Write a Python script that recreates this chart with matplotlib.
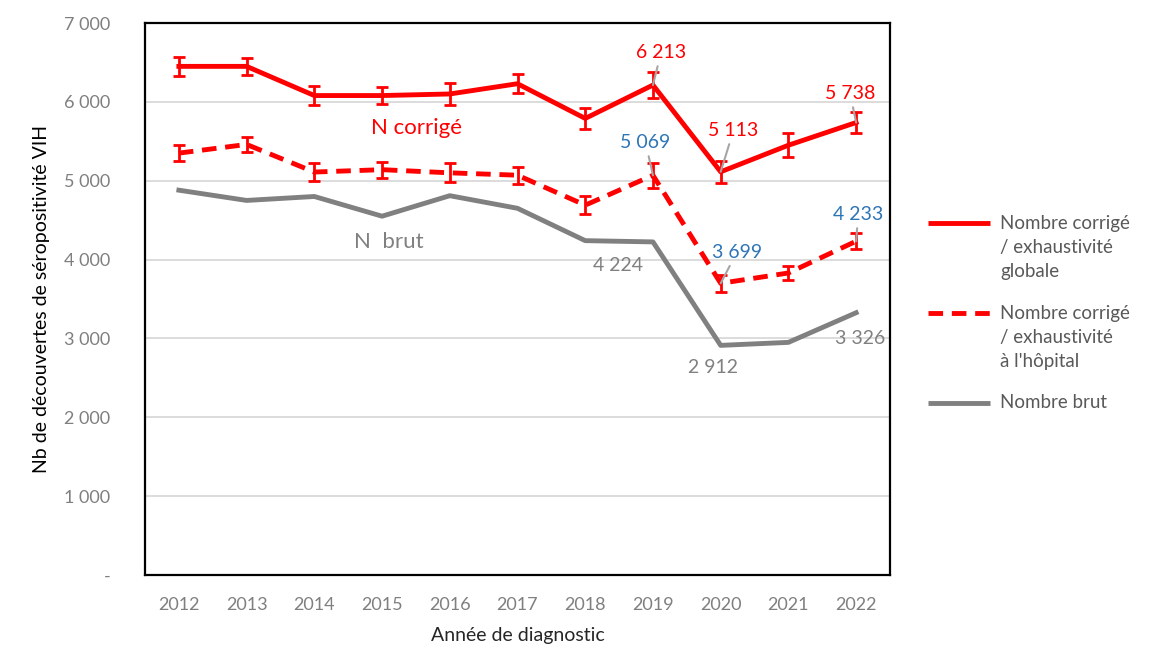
import matplotlib
matplotlib.use("Agg")
import matplotlib.pyplot as plt
from matplotlib.lines import Line2D

plt.rcParams['font.family'] = ['Lato', 'DejaVu Sans']

years = [2012, 2013, 2014, 2015, 2016, 2017, 2018, 2019, 2020, 2021, 2022]
corrige_global = [6450, 6450, 6080, 6080, 6100, 6230, 5790, 6213, 5113, 5450, 5738]
corrige_global_err = [120, 110, 120, 110, 140, 120, 130, 160, 140, 150, 130]
corrige_hopital = [5350, 5460, 5110, 5140, 5100, 5070, 4690, 5069, 3699, 3830, 4233]
corrige_hopital_err = [100, 100, 110, 100, 120, 110, 110, 160, 110, 90, 100]
brut = [4880, 4750, 4800, 4550, 4810, 4650, 4240, 4224, 2912, 2950, 3326]
yticks = [0, 1000, 2000, 3000, 4000, 5000, 6000, 7000]
ytick_labels = ['-', '1 000', '2 000', '3 000', '4 000', '5 000', '6 000', '7 000']
legend_labels = [['Nombre corrigé', '/ exhaustivité', 'globale'],
                 ['Nombre corrigé', '/ exhaustivité', 'à l\'hôpital'],
                 ['Nombre brut']]

RED = '#ff0000'
GRAY = '#808080'
BLUE = '#2e75b6'
TICK = '#7f7f7f'

W, H = 1164, 667
fig = plt.figure(figsize=(W / 100, H / 100), dpi=100)
ax = fig.add_axes([145 / W, 92 / H, 745 / W, 552 / H])

x = list(range(len(years)))
ax.plot(x, brut, color=GRAY, lw=3.5, zorder=3)
ax.errorbar(x, corrige_hopital, yerr=corrige_hopital_err, color=RED, lw=3.5,
            ls=(0, (3, 1.8)), ecolor=RED, elinewidth=2, capsize=4, capthick=2, zorder=4)
ax.errorbar(x, corrige_global, yerr=corrige_global_err, color=RED, lw=3.5,
            ecolor=RED, elinewidth=2, capsize=4, capthick=2, zorder=5)

ax.set_xlim(-0.5, len(years) - 0.5)
ax.set_ylim(0, 7000)
ax.set_yticks(yticks)
ax.set_yticklabels(ytick_labels)
ax.set_xticks(x)
ax.set_xticklabels([str(y) for y in years])
ax.tick_params(axis='both', length=0, labelsize=13, labelcolor=TICK)
ax.tick_params(axis='x', pad=16)
ax.tick_params(axis='y', pad=25)
ax.grid(axis='y', color='#d9d9d9', lw=1.3)
ax.set_axisbelow(True)
for s in ax.spines.values():
    s.set_color('black')
    s.set_linewidth(1.6)

ax.set_ylabel('Nb de découvertes de séropositivité VIH', fontsize=14, color='black', labelpad=10)
ax.set_xlabel('Année de diagnostic', fontsize=14, color='#262626', labelpad=10)

def lab(i, val, dx, dy, color, leader=True):
    txt = f"{val:,}".replace(',', ' ')
    if leader:
        ax.annotate(txt, xy=(x[i], val), xytext=(x[i] + dx, val + dy),
                    color=color, fontsize=14, ha='center', va='center',
                    arrowprops=dict(arrowstyle='-', color='#a6a6a6', lw=1.5,
                                    shrinkA=2, shrinkB=0), zorder=6)
    else:
        ax.text(x[i] + dx, val + dy, txt, color=color, fontsize=14,
                ha='center', va='center', zorder=6)

lab(7, corrige_global[7], 0.12, 416, RED)
lab(8, corrige_global[8], 0.19, 527, RED)
lab(10, corrige_global[10], -0.09, 371, RED)
lab(7, corrige_hopital[7], -0.11, 419, BLUE)
lab(8, corrige_hopital[8], 0.24, 395, BLUE)
lab(10, corrige_hopital[10], 0.03, 342, BLUE)
lab(7, brut[7], -0.51, -295, GRAY, leader=False)
lab(8, brut[8], -0.12, -276, GRAY, leader=False)
lab(10, brut[10], 0.06, -322, GRAY, leader=False)

ax.text(3.51, 5665, 'N corrigé', color=RED, fontsize=16, ha='center', va='center')
ax.text(3.1, 4220, 'N  brut', color=GRAY, fontsize=16, ha='center', va='center')

# Legend drawn in figure pixel coordinates
styles = [dict(color=RED, lw=3.5), dict(color=RED, lw=3.5, ls=(0, (3, 1.8))),
          dict(color=GRAY, lw=3.5)]
entry_y = [223, 313, 403]
for st, y0, lines in zip(styles, entry_y, legend_labels):
    fig.add_artist(Line2D([928 / W, 990 / W], [1 - y0 / H, 1 - y0 / H],
                          transform=fig.transFigure, solid_capstyle='butt', **st))
    for k, line in enumerate(lines):
        fig.text(1000 / W, 1 - (y0 + 24 * k) / H, line, fontsize=13.5,
                 color='#595959', ha='left', va='center')

fig.savefig('out.png', dpi=100)
